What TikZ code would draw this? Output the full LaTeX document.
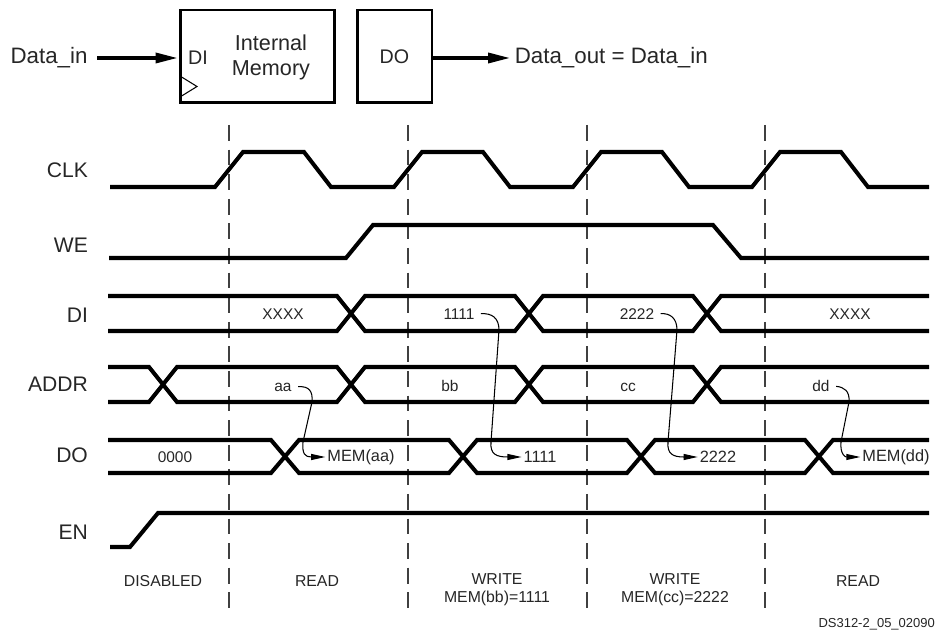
\documentclass[tikz,border=0pt]{standalone}
\usepackage{fontspec}
\setmainfont{Liberation Sans}
\usepackage{xcolor}
\usepackage{tikz}
\usetikzlibrary{arrows.meta,positioning,calc}

\begin{document}
\begin{tikzpicture}[
    x=0.02cm, y=-0.02cm,
    signame/.style={anchor=east, inner sep=1pt, text=black!85, font=\fontsize{12}{14}\selectfont},
    iolabel/.style={inner sep=2pt, text=black!85, font=\fontsize{12.7}{14}\selectfont},
    membox/.style={rectangle, draw=black, line width=1.7pt, minimum height=1.86cm, inner sep=0pt, text=black!85, font=\fontsize{11.2}{13}\selectfont},
    boxtext/.style={inner sep=1pt, text=black!85, font=\fontsize{11.2}{13}\selectfont, align=center},
    bustext/.style={inner sep=1pt, text=black!85, font=\fontsize{8.8}{10}\selectfont},
    phase/.style={inner sep=1pt, text=black!85, font=\fontsize{9}{10.2}\selectfont, align=center},
    wave/.style={line width=2.3pt, line join=miter},
    divider/.style={line width=0.85pt, black!75, dash pattern=on 9pt off 5pt},
    bigarrow/.style={line width=2.3pt, -{Triangle[length=13pt, width=5.5pt]}},
    flow/.style={line width=0.6pt, shorten <=2.5pt, -{Triangle[length=8pt, width=3.4pt]}}
]
    \useasboundingbox (0,0) rectangle (938,631);

    % Block with internal memory and output register
    \node[membox, minimum width=3.1cm] (mem) at (257.5,56.5) {};
    \node[membox, minimum width=1.5cm] (dobox) at (394.5,56.5) {DO};
    \node[boxtext] (mem_di) at (198,57.5) {DI};
    \node[boxtext, font=\fontsize{12.3}{14.2}\selectfont] (mem_txt) at (271,57) {Internal\\Memory};
    \draw[line width=0.6pt] (180,76) -- (197,86.5) -- (180,97);

    \node[iolabel] (data_in) at (49,58) {Data\_in};
    \node[iolabel, anchor=west] (data_out) at (511,58) {Data\_out = Data\_in};
    \draw[bigarrow, shorten <=3.5pt] (data_in.east) -- (data_in -| mem.west);
    \draw[bigarrow] (dobox.east |- data_out) -- (data_out.west);

    % Phase boundaries
    \draw[divider] (229,125) -- (229,611);
    \draw[divider] (408,125) -- (408,611);
    \draw[divider] (587,125) -- (587,611);
    \draw[divider] (765,125) -- (765,611);

    % Signal names
    \node[signame] (l_clk)  at (90,170) {CLK};
    \node[signame] (l_we)   at (90,245) {WE};
    \node[signame] (l_di)   at (90,315) {DI};
    \node[signame] (l_addr) at (90,384) {ADDR};
    \node[signame] (l_do)   at (90,455) {DO};
    \node[signame] (l_en)   at (90,532) {EN};

    % CLK
    \draw[wave] (110,187) -- (215,187) -- (243,152) -- (304,152) -- (331,187)
        -- (394,187) -- (422,152) -- (483,152) -- (510,187)
        -- (573,187) -- (601,152) -- (662,152) -- (689,187)
        -- (752,187) -- (780,152) -- (841,152) -- (868,187) -- (929,187);

    % WE
    \draw[wave] (109,258) -- (346,258) -- (373,225) -- (713,225) -- (741,258) -- (929,258);

    % DI bus
    \draw[wave] (108,296) -- (337,296) -- (365,331) -- (515,331) -- (543,296) -- (693,296) -- (721,331) -- (929,331);
    \draw[wave] (108,331) -- (337,331) -- (365,296) -- (515,296) -- (543,331) -- (693,331) -- (721,296) -- (929,296);

    % ADDR bus
    \draw[wave] (108,367) -- (149,367) -- (177,402) -- (337,402) -- (365,367) -- (515,367) -- (543,402) -- (693,402) -- (721,367) -- (929,367);
    \draw[wave] (108,402) -- (149,402) -- (177,367) -- (337,367) -- (365,402) -- (515,402) -- (543,367) -- (693,367) -- (721,402) -- (929,402);

    % DO bus
    \draw[wave] (108,440) -- (271,440) -- (299,473) -- (449,473) -- (477,440) -- (627,440) -- (655,473) -- (805,473) -- (833,440) -- (929,440);
    \draw[wave] (108,473) -- (271,473) -- (299,440) -- (449,440) -- (477,473) -- (627,473) -- (655,440) -- (805,440) -- (833,473) -- (929,473);

    % EN
    \draw[wave] (110,547) -- (130,547) -- (158,513) -- (929,513);

    % Bus values
    \node[bustext] (t_dix1) at (283,314) {XXXX};
    \node[bustext] (t_di1)  at (459,314) {1111};
    \node[bustext] (t_di2)  at (637,314) {2222};
    \node[bustext] (t_dix2) at (850,314) {XXXX};

    \node[bustext] (t_aa) at (283,387) {aa};
    \node[bustext] (t_bb) at (450,386) {bb};
    \node[bustext] (t_cc) at (628,387) {cc};
    \node[bustext] (t_dd) at (821,386) {dd};

    \node[bustext] (t_do0)   at (175,457) {0000};
    \node[bustext, font=\fontsize{9.3}{10}\selectfont] (t_memaa) at (361,457) {MEM(aa)};
    \node[bustext, font=\fontsize{9.3}{10}\selectfont] (t_do1)   at (540,457) {1111};
    \node[bustext, font=\fontsize{9.3}{10}\selectfont] (t_do2)   at (718,457) {2222};
    \node[bustext, font=\fontsize{9.3}{10}\selectfont] (t_memdd) at (896,457) {MEM(dd)};

    % Data flow from inputs to output
    \draw[flow] (t_aa.east) .. controls (309,386) and (313,391) .. (312,402) -- (303,442)
        .. controls (302,454) and (305,457) .. (t_memaa.west);
    \draw[flow] (t_di1.east) .. controls (492,313) and (499,318) .. (499,330) -- (491,442)
        .. controls (490,454) and (496,457) .. (t_do1.west);
    \draw[flow] (t_di2.east) .. controls (670,313) and (677,318) .. (677,330) -- (668,442)
        .. controls (667,454) and (673,457) .. (t_do2.west);
    \draw[flow] (t_dd.east) .. controls (844,387) and (850,391) .. (849,402) -- (841,442)
        .. controls (840,454) and (845,457) .. (t_memdd.west);

    % Operating phases
    \node[phase] (p_dis)    at (163,581) {DISABLED};
    \node[phase] (p_read1)  at (317,581) {READ};
    \node[phase] (p_write1) at (497,590) {WRITE\\MEM(bb)=1111};
    \node[phase] (p_write2) at (675,590) {WRITE\\MEM(cc)=2222};
    \node[phase] (p_read2)  at (858,581) {READ};

    \node[inner sep=1pt, anchor=east, text=black!85, font=\fontsize{7.4}{9}\selectfont] (fig_id) at (937,624) {DS312-2\_05\_02090};

\end{tikzpicture}
\end{document}
